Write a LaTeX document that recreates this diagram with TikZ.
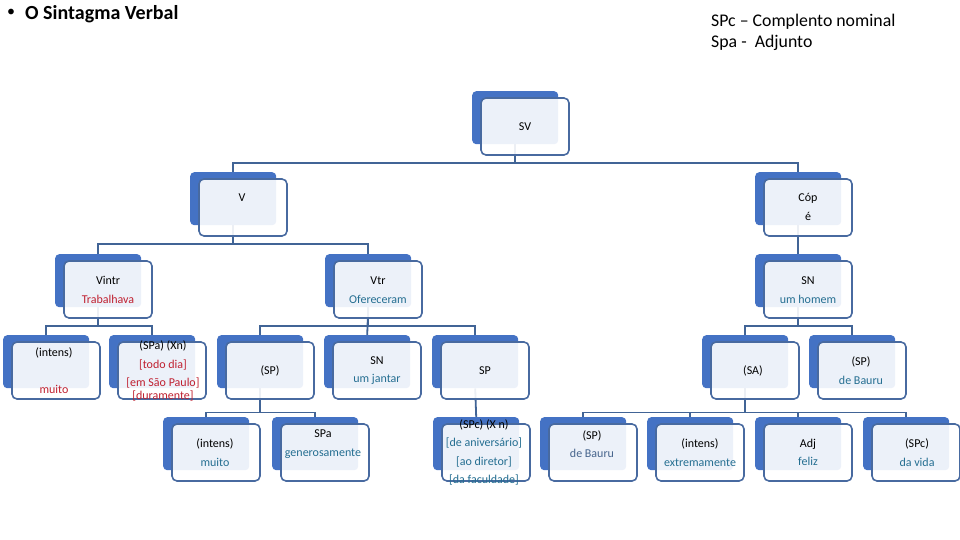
\documentclass[tikz,border=0pt]{standalone}
\usepackage{fontspec}
\setmainfont{Carlito}
\definecolor{boxblue}{RGB}{68,114,196}
\definecolor{edgeblue}{RGB}{72,106,160}
\definecolor{connblue}{RGB}{65,100,150}
\definecolor{redtxt}{RGB}{192,32,48}
\definecolor{tealtxt}{RGB}{36,110,145}
\definecolor{graytxt}{RGB}{70,100,140}
\pgfdeclarelayer{bg}
\pgfsetlayers{bg,main}
\tikzset{
  backbox/.style={fill=boxblue, rounded corners=4pt, minimum width=86pt, minimum height=53pt, anchor=north west, inner sep=0pt},
  frontbox/.style={fill=white, fill opacity=0.9, draw=edgeblue, line width=1.6pt, rounded corners=5pt, minimum width=88pt, minimum height=57pt, inner sep=0pt},
  lbl/.style={align=center, font=\fontsize{12}{18.5}\selectfont, text=black, inner sep=0pt},
  link/.style={draw=connblue, line width=1.8pt},
}
\newcommand\tnode[3]{%
  \node[backbox] (#1) at (#2,#3) {};
  \node[frontbox] (#1-f) at (#2+53,#3+35.5) {};
}
\newcommand\rd[1]{\textcolor{redtxt}{#1}}
\newcommand\tl[1]{\textcolor{tealtxt}{#1}}
\begin{document}
\begin{tikzpicture}[x=1pt,y=-1pt]
\useasboundingbox (0,0) rectangle (960,540);
% title and legend
\node[anchor=west, inner sep=0pt, font=\fontsize{16}{16}\selectfont] (bul) at (7,13) {•};
\node[anchor=west, inner sep=0pt, font=\fontsize{20}{20}\selectfont\bfseries] (title) at (25,14) {O Sintagma Verbal};
\node[anchor=west, inner sep=0pt, align=left, font=\fontsize{17.8}{21}\selectfont] (legend) at (711,32.5) {SPc – Complento nominal\\Spa -\ \ Adjunto};
% boxes
\tnode{sv}{472}{91}
\tnode{v}{190}{172}
\tnode{cop}{755}{172}
\tnode{vintr}{55}{254}
\tnode{vtr}{325}{254}
\tnode{snh}{755}{254}
\tnode{intA}{3}{335}
\tnode{spa}{109}{335}
\tnode{spA}{217}{335}
\tnode{snj}{324}{335}
\tnode{spB}{432}{335}
\tnode{sa}{702}{335}
\tnode{spbA}{809}{335}
\tnode{intB}{163}{417}
\tnode{spag}{272}{417}
\tnode{spc}{433}{417}
\tnode{spbB}{540}{417}
\tnode{intC}{647}{417}
\tnode{adj}{755}{417}
\tnode{spcB}{863}{417}
% texts
\node[lbl] (sv-t) at (525,127) {SV};
\node[lbl] (v-t) at (242,198) {V};
\node[lbl] (cop-t) at (808,207) {Cóp\\é};
\node[lbl] (vintr-t) at (108,290) {Vintr\\\rd{Trabalhava}};
\node[lbl] (vtr-t) at (378,290) {Vtr\\\tl{Ofereceram}};
\node[lbl] (snh-t) at (808,290) {SN\\\tl{um homem}};
\node[lbl] (intA-t) at (54,370.5) {(intens)\\[18.5pt]\rd{muito}};
\node[lbl] (spa-t) at (163,371) {(SPa) (Xn)\\\rd{[todo dia]}\\\rd{[em São Paulo]}\\[-6pt]\rd{[duramente]}};
\node[lbl] (spA-t) at (270,371) {(SP)};
\node[lbl] (snj-t) at (377,370.5) {SN\\\tl{um jantar}};
\node[lbl] (spB-t) at (485,371) {SP};
\node[lbl] (sa-t) at (753,371) {(SA)};
\node[lbl] (spbA-t) at (861,370.5) {(SP)\\\tl{de Bauru}};
\node[lbl] (intB-t) at (215,452.5) {(intens)\\\tl{muito}};
\node[lbl] (spag-t) at (323,444) {SPa\\\tl{generosamente}};
\node[lbl] (spc-t) at (484,452.5) {(SPc) (X n)\\\tl{[de aniversário]}\\\tl{[ao diretor]}\\\tl{[da faculdade]}};
\node[lbl] (spbB-t) at (592,444) {(SP)\\\textcolor{graytxt}{de Bauru}};
\node[lbl] (intC-t) at (700,452.5) {(intens)\\\tl{extremamente}};
\node[lbl] (adj-t) at (808,452.5) {Adj\\\tl{feliz}};
\node[lbl] (spcB-t) at (917,452.5) {(SPc)\\\tl{da vida}};
% connectors
\coordinate (busA) at (0,163);
\coordinate (busB) at (0,244);
\coordinate (busC) at (0,326);
\coordinate (busD) at (0,412.5);
\begin{pgfonlayer}{bg}
\draw[link] (sv.south) -- (sv.south |- busA) -| (v.north);
\draw[link] (sv.south) -- (sv.south |- busA) -| (cop.north);
\draw[link] (v.south) -- (v.south |- busB) -| (vintr.north);
\draw[link] (v.south) -- (v.south |- busB) -| (vtr.north);
\draw[link] (cop.south) -- (snh.north);
\draw[link] (vintr.south) -- (vintr.south |- busC) -| (intA.north);
\draw[link] (vintr.south) -- (vintr.south |- busC) -| (spa.north);
\draw[link] (vtr.south) -- (vtr.south |- busC) -| (spA.north);
\draw[link] (vtr.south) -- (snj.north);
\draw[link] (vtr.south) -- (vtr.south |- busC) -| (spB.north);
\draw[link] (snh.south) -- (snh.south |- busC) -| (sa.north);
\draw[link] (snh.south) -- (snh.south |- busC) -| (spbA.north);
\draw[link] (spA.south) -- (spA.south |- busD) -| (intB.north);
\draw[link] (spA.south) -- (spA.south |- busD) -| (spag.north);
\draw[link] (spB.south) -- (spc.north);
\draw[link] (sa.south) -- (sa.south |- busD) -| (spbB.north);
\draw[link] (sa.south) -- (sa.south |- busD) -| (intC.north);
\draw[link] (sa.south) -- (sa.south |- busD) -| (adj.north);
\draw[link] (sa.south) -- (sa.south |- busD) -| (spcB.north);
\end{pgfonlayer}
\end{tikzpicture}
\end{document}
